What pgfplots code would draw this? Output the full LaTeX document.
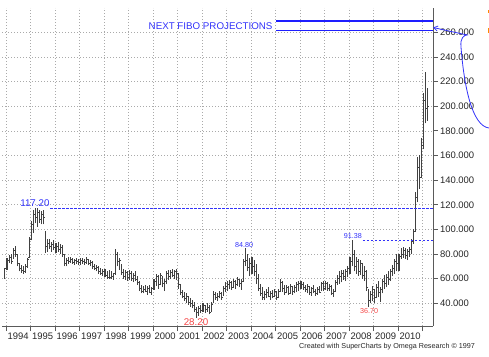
\documentclass[border=0pt]{standalone}
\usepackage{fontspec}
\setmainfont{Liberation Sans}
\usepackage{pgfplots}
\pgfplotsset{compat=1.18}
\usepackage{pgfplotstable}
\usetikzlibrary{arrows.meta}
\definecolor{fibo}{RGB}{50,50,250}
\definecolor{fiboline}{RGB}{30,30,255}
\definecolor{lowred}{RGB}{245,70,70}
\definecolor{barc}{RGB}{65,65,65}
\definecolor{gridc}{RGB}{170,170,170}
\definecolor{axc}{RGB}{90,90,90}

% monthly bars, first row = Dec 1993
\pgfplotstableread{
lo hi op cl
60 69 61 68
67 77 68 75
73 79 75 77
72 80 77 74
76 85 74 83
78 86.5 83 80
70 80 80 72
66 73 72 68
65 71 68 67
64 70 67 66
65 72 66 70
69 77 70 76
77 94 77 92
91 107 92 104
97 116 104 112
105 117.2 112 110
102 117 110 114
105 116 114 108
104 115 108 112
104 116 112 110
81 99 97 86
82 92 86 89
84 92 89 86
82 90 86 88
83 91 88 85
81 89 85 86
82 90 86 84
80 88 84 85
78 87 85 80
70 80 80 72
70 77 72 75
72 78 75 74
73 78 74 76
72 77 76 73
71 76 73 75
72 77 75 74
71 76 74 73
71 77 73 75
72 77 75 74
71 76 74 73
72 78 73 76
71 76 76 72
70 75 72 73
68 74 73 70
67 72 70 68
66 71 68 69
64 70 69 66
63 69 66 64
62 68 64 66
61 68 66 63
60 66 63 61
60 67 61 66
60 66 61 62
59 65 62 64
63 84 64 80
70 82 80 74
67 77 74 75
63 72 75 65
60 68 65 62
59 67 62 65
58 66 65 61
59 67 61 64
58 66 64 60
57 65 60 63
58 66 63 59
55 62 59 57
50 58 57 52
48 55 52 50
48 54 50 51
49 55 51 50
47 54 50 52
48 55 52 49
47 53 49 52
51 60 52 58
54 64 58 62
52 63 62 55
55 65 55 63
53 62 63 56
50 60 56 58
56 66 58 64
59 67 64 62
60 67 62 65
61 68 65 63
60 67 63 66
59 68 66 64
52 64 64 55
47 56 55 49
44 51 49 46
42 49 46 44
40 48 44 46
39 46 46 41
37 44 41 40
36 43 40 38
33 41 38 35
28.2 37 35 33
30 38 33 36
32 39 36 34
33 40 34 38
32 39 38 35
33 40 35 37
31 39 37 33
33 41 33 39
40 50 39 47
43 49 47 45
42 48 45 46
44 50 46 48
43 49 48 45
46 54 45 52
49 57 52 54
50 58 54 55
52 59 55 57
51 58 57 53
53 60 53 58
52 59 58 55
54 61 55 59
53 60 59 56
51 60 56 58
58 76 58 74
70 84.8 74 75
66 80 75 69
62 77 69 72
64 78 72 70
62 75 70 66
56 72 66 60
50 64 60 52
46 56 52 48
43 53 48 45
42.6 50 45 47
44 52 47 49
45 53 49 46
43 50 46 48
44 51 48 46
45 52 46 50
43 50 50 45
44 52 45 50
50 60 50 57
49 58 57 52
47 55 52 49
48 55 49 53
47 54 53 48
48 56 48 54
47 54 54 50
48 55 50 53
49 57 53 55
50 58 55 56
52 58 56 55
51 57 55 53
49 55 53 51
48 56 51 54
47 54 54 49
46 53 49 52
48 55 52 50
46 52 50 48
47 53 48 51
48 54 51 49
50 57 49 56
50 58 56 52
51 58 52 56
50 57 56 52
50 56 52 54
47 55 54 48
45 52 48 50
50 59 50 57
55 63 57 60
56 66 60 62
57 67 62 64
59 67 64 62
58 68 62 66
61 70 66 68
64 78 68 74
70 91.38 74 80
66 83 80 70
64 78 70 74
62 76 74 66
63 75 66 72
60 73 72 63
58 70 63 66
50 67 66 53
36.7 52 53 42
40 50 42 47
42 54 47 51
40 52 51 45
44 56 45 53
45 58 53 49
41 53 49 51
48 60 51 58
52 63 58 56
53 64 56 61
55 66 61 59
58 68 59 66
62 71 66 68
64 76 68 74
66 80 74 72
66 80 72 78
76 85 78 80
77 86 80 83
76 85 83 79
75 84 79 82
78 86 82 84
80 92 84 90
88 100 90 98
98 130 98 126
122 159 126 150
133 160 150 142
142 174 142 168
165 211 168 205
186 228 205 198
188 215 198 200
}\prices

\begin{document}
\begin{tikzpicture}
\begin{axis}[
  at={(0,0)}, anchor=south west,
  scale only axis, width=431bp, height=318bp,
  xmin=1993.837, xmax=2011.429, ymin=21.6, ymax=279.7,
  axis x line=bottom, axis y line=right,
  axis line style={-, draw=axc, line width=0.9bp},
  xtick={1994,...,2011}, x tick label as interval,
  ytick={40,60,...,260},
  scaled x ticks=false, scaled y ticks=false,
  tick align=outside, major tick length=5bp,
  tick style={draw=axc, line width=0.8bp},
  grid=major, grid style={draw=gridc, dash pattern=on 1bp off 2bp, line width=0.6bp},
  /pgf/number format/assume math mode=true,
  xticklabel style={font=\fontsize{9.5}{10}\selectfont, text=black!85, yshift=2bp,
    /pgf/number format/1000 sep={}},
  yticklabel style={font=\fontsize{9.5}{10}\selectfont, text=black!85, xshift=-1.5bp,
    /pgf/number format/.cd, fixed, fixed zerofill, precision=3, 1000 sep={}},
  clip=false,
]
% high-low ranges
\addplot[forget plot, draw=none, mark=none,
  error bars/.cd, y dir=plus, y explicit, error mark=none,
  error bar style={draw=barc, line width=1.05bp}]
  table[x expr=1993.9583+\coordindex/12, y=lo, y error expr=\thisrow{hi}-\thisrow{lo}] {\prices};
% open ticks
\addplot[forget plot, draw=none, mark=none,
  error bars/.cd, x dir=minus, x fixed=0.05, error mark=none,
  error bar style={draw=barc, line width=0.85bp}]
  table[x expr=1993.9583+\coordindex/12, y=op] {\prices};
% close ticks
\addplot[forget plot, draw=none, mark=none,
  error bars/.cd, x dir=plus, x fixed=0.05, error mark=none,
  error bar style={draw=barc, line width=0.85bp}]
  table[x expr=1993.9583+\coordindex/12, y=cl] {\prices};

% reference levels
\draw[fibo, line width=0.8bp, dash pattern=on 2.5bp off 1.5bp] (1995.8,117.2) -- (2011.429,117.2);
\draw[fibo, line width=0.8bp, dash pattern=on 2.5bp off 1.5bp] (2008.57,91.38) -- (2011.429,91.38);
\draw[fiboline, line width=1.6bp] (2005.02,269.15) -- (2011.429,269.15);
\draw[fiboline, line width=1.4bp] (2005.02,261.4) -- (2011.429,261.4);

\node[text=fibo, font=\fontsize{9.8}{10}\selectfont, inner sep=0pt] at (2002.35,265.1) {NEXT FIBO PROJECTIONS};
\node[text=fibo, font=\fontsize{9.8}{10}\selectfont, inner sep=0pt] at (1995.18,121.4) {117.20};
\node[text=fibo, font=\fontsize{7.2}{8}\selectfont, inner sep=0pt] at (2008.16,94.7) {91.38};
\node[text=fibo, font=\fontsize{7.2}{8}\selectfont, inner sep=0pt] at (2003.72,87.3) {84.80};
\node[text=lowred, font=\fontsize{9.8}{10}\selectfont, inner sep=0pt] at (2001.755,24.8) {28.20};
\node[text=lowred, font=\fontsize{7.2}{8}\selectfont, inner sep=0pt] at (2008.82,33.8) {36.70};
\end{axis}

% hand-drawn pointer
\draw[fibo, line width=0.8bp, -{Straight Barb[length=4bp, width=5bp]}]
  (487bp,198bp) .. controls (470bp,200bp) and (462bp,240bp) .. (459bp,279bp)
  .. controls (458bp,288bp) and (462bp,291bp) .. (465bp,291bp) -- (431bp,298.5bp);
\fill[orange!90!yellow] (485.6bp,313bp) rectangle (487bp,316bp);
\fill[orange!90!yellow] (485.6bp,293bp) rectangle (487bp,298bp);

\node[font=\fontsize{7.2}{8}\selectfont, text=black!85, inner sep=0pt] at (385bp,-21bp)
  {Created with SuperCharts by Omega Research \textcopyright{} 1997};

\pgfresetboundingbox
\useasboundingbox (-2bp,-31bp) rectangle (487bp,326bp);
\end{tikzpicture}
\end{document}
